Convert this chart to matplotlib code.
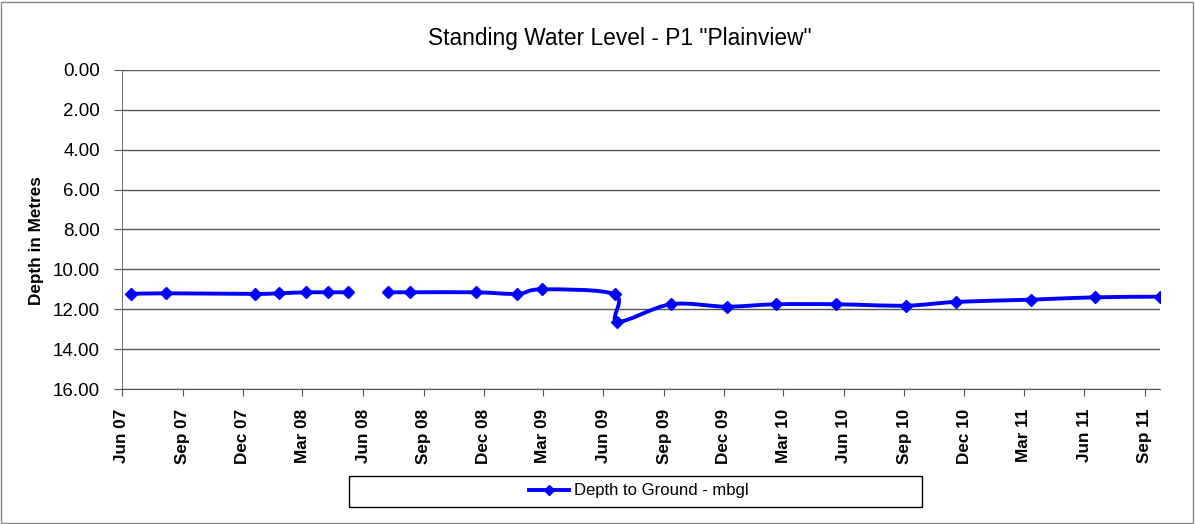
import numpy as np
import pandas as pd
import matplotlib
matplotlib.use("Agg")
import matplotlib.pyplot as plt
import matplotlib.dates as mdates
from matplotlib.path import Path
from matplotlib.patches import PathPatch, Rectangle
from matplotlib.lines import Line2D

plt.rcParams['font.family'] = ['Liberation Sans', 'DejaVu Sans']

# survey dates and depth to water (m below ground); None/NaN = gap in the record
dates = ["2007-06-15", "2007-08-07", "2007-12-20", "2008-01-26", "2008-03-06",
         "2008-04-09", "2008-05-09", None, "2008-07-09", "2008-08-12",
         "2008-11-19", "2009-01-21", "2009-02-28", "2009-06-18", "2009-06-22",
         "2009-09-11", "2009-12-05", "2010-02-18", "2010-05-20", "2010-09-03",
         "2010-11-19", "2011-03-12", "2011-06-17", "2011-09-24"]
depth = [11.23, 11.20, 11.23, 11.20, 11.15,
         11.15, 11.15, np.nan, 11.15, 11.15,
         11.15, 11.23, 11.00, 11.25, 12.62,
         11.75, 11.87, 11.75, 11.75, 11.82,
         11.63, 11.52, 11.40, 11.37]

title = 'Standing Water Level - P1 "Plainview"'
ylabel = "Depth in Metres"
series_name = "Depth to Ground - mbgl"
blue = "#0000FF"

x = np.array([mdates.date2num(pd.Timestamp(d)) if d else np.nan for d in dates])
y = np.array(depth)


def smooth_path(px, py):
    # Excel-style smoothed line: cubic Bezier through the points
    verts = [(px[0], py[0])]
    codes = [Path.MOVETO]
    n = len(px)
    for i in range(n - 1):
        p0 = np.array([px[max(i - 1, 0)], py[max(i - 1, 0)]])
        p1 = np.array([px[i], py[i]])
        p2 = np.array([px[i + 1], py[i + 1]])
        p3 = np.array([px[min(i + 2, n - 1)], py[min(i + 2, n - 1)]])
        c1 = p1 + (p2 - p0) / 6.0
        c2 = p2 - (p3 - p1) / 6.0
        verts += [tuple(c1), tuple(c2), tuple(p2)]
        codes += [Path.CURVE4] * 3
    return Path(verts, codes)


fig = plt.figure(figsize=(11.95, 5.24), dpi=100)
ax = fig.add_axes([122 / 1195, 1 - 389 / 524, (1160 - 122) / 1195, (389 - 70) / 524])

# draw each unbroken run of the series as a smoothed curve
breaks = np.where(np.isnan(y))[0]
start = 0
for b in list(breaks) + [len(y)]:
    seg_x, seg_y = x[start:b], y[start:b]
    if len(seg_x) > 1:
        ax.add_patch(PathPatch(smooth_path(seg_x, seg_y), facecolor="none",
                               edgecolor=blue, lw=2.8, zorder=3))
    start = b + 1
ax.plot(x, y, linestyle="none", marker="D", ms=6.5, color=blue, zorder=4)

ax.set_ylim(16, 0)
ax.set_yticks(np.arange(0, 17, 2))
ax.yaxis.set_major_formatter(matplotlib.ticker.FormatStrFormatter("%.2f"))
ax.grid(axis="y", color="#555555", lw=1)
ax.set_axisbelow(True)

ax.set_xlim(mdates.date2num(pd.Timestamp("2007-06-01")), np.nanmax(x))
ax.xaxis.set_major_locator(mdates.MonthLocator(bymonth=[3, 6, 9, 12]))
ax.xaxis.set_major_formatter(mdates.DateFormatter("%b %y"))
for lab in ax.get_xticklabels():
    lab.set_rotation(90)
    lab.set_fontweight("bold")
ax.tick_params(axis="x", labelsize=12.3, length=5, color="#555555", pad=9)
ax.tick_params(axis="y", labelsize=13.5, length=6, color="#555555", pad=10)

for s in ["top", "right"]:
    ax.spines[s].set_visible(False)
ax.spines["left"].set_color("#777777")
ax.spines["bottom"].set_color("#555555")

fig.text(37 / 1195, 1 - 241 / 524, ylabel, ha="center", va="center",
         rotation=90, fontsize=12.3, fontweight="bold")

fig.text(620 / 1195, 1 - 39 / 524, title, ha="center", va="center", fontsize=16.4)

# legend box below the axis
fig.patches.append(Rectangle((349 / 1195, 1 - 507 / 524), (922 - 349) / 1195, 31 / 524,
                             transform=fig.transFigure, facecolor="white",
                             edgecolor="black", lw=1))
handle = Line2D([], [], color=blue, lw=2.8, marker="D", ms=5.5)
fig.legend([handle], [series_name], loc="center", frameon=False,
           bbox_to_anchor=(639 / 1195, 1 - 491 / 524), fontsize=12,
           handlelength=2.4, handletextpad=0.3)

# outer chart border
fig.patches.append(Rectangle((0.001, 0.002), 0.997, 0.995, transform=fig.transFigure,
                             facecolor="none", edgecolor="#888888", lw=1))

plt.savefig("out.png")
